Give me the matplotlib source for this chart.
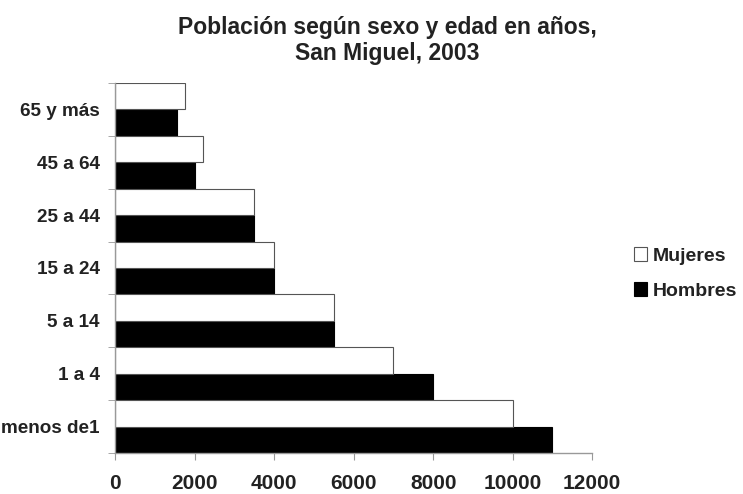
import matplotlib.pyplot as plt
import numpy as np
from matplotlib.ticker import FixedLocator, NullFormatter

plt.rcParams["font.family"] = ["Liberation Sans", "DejaVu Sans"]

categories = ["menos de1", "1 a 4", "5 a 14", "15 a 24", "25 a 44", "45 a 64", "65 y más"]
mujeres = [10000, 7000, 5500, 4000, 3500, 2200, 1750]
hombres = [11000, 8000, 5500, 4000, 3500, 2000, 1550]
x_ticks = [0, 2000, 4000, 6000, 8000, 10000, 12000]

fig = plt.figure(figsize=(7.43, 4.94), dpi=100)
ax = fig.add_axes([0.155, 0.083, 0.642, 0.749])

y = np.arange(len(categories))
h = 0.5
ax.barh(y - h / 2, hombres, height=h, color="black", edgecolor="black",
        linewidth=0.8, label="Hombres")
ax.barh(y + h / 2, mujeres, height=h, color="white", edgecolor="#555555",
        linewidth=0.8, label="Mujeres")

ax.set_xlim(0, 12000)
ax.set_ylim(-0.5, len(categories) - 0.5)
ax.set_xticks(x_ticks)
ax.set_xticklabels([str(v) for v in x_ticks], fontsize=15, fontweight="bold",
                   color="#222222")
ax.set_yticks(y)
ax.set_yticklabels(categories, fontsize=13.6, fontweight="bold", color="#222222")
ax.yaxis.set_minor_locator(FixedLocator(np.arange(-0.5, len(categories), 1.0)))
ax.yaxis.set_minor_formatter(NullFormatter())
ax.tick_params(axis="y", which="major", length=0, pad=11)
ax.tick_params(axis="y", which="minor", length=5, color="#999999")
ax.tick_params(axis="x", length=5, color="#999999", pad=10)

for side in ["top", "right"]:
    ax.spines[side].set_visible(False)
for side in ["left", "bottom"]:
    ax.spines[side].set_color("#999999")
    ax.spines[side].set_linewidth(1.0)

handles, labels = ax.get_legend_handles_labels()
leg = fig.legend(handles[::-1], labels[::-1], loc="center left",
                 bbox_to_anchor=(0.853, 0.446), frameon=False,
                 borderpad=0, borderaxespad=0,
                 prop={"weight": "bold", "size": 14},
                 handlelength=0.7, handleheight=0.7, handletextpad=0.25,
                 labelspacing=0.9)
for t in leg.get_texts():
    t.set_color("#222222")

fig.suptitle("Población según sexo y edad en años,\nSan Miguel, 2003",
             x=0.521, y=0.968, fontsize=16.5, fontweight="bold", color="#222222",
             linespacing=1.2)

fig.savefig("out.png", dpi=100)
